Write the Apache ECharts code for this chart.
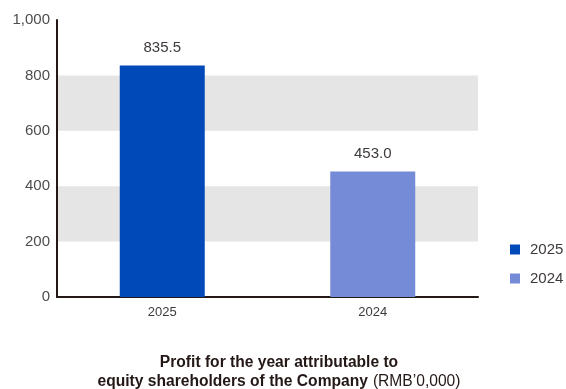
<!DOCTYPE html>
<html><head><meta charset="utf-8">
<script src="https://cdn.jsdelivr.net/npm/echarts@6/dist/echarts.min.js"></script>
<style>html,body{margin:0;padding:0;background:#fff}#c{width:566px;height:389px}</style>
</head><body><div id="c"></div>
<script>
const categories = ['2025', '2024'];
const values = [835.5, 453.0];
const seriesNames = ['2025', '2024'];
const colors = ['#0049b8', '#768bd7'];
const yTicks = [0, 200, 400, 600, 800, 1000];

const chart = echarts.init(document.getElementById('c'));
const font = 'Helvetica, Arial, "Liberation Sans", sans-serif';
chart.setOption({
  animation: false,
  textStyle: { fontFamily: font },
  grid: { left: 57, right: 88, top: 20, bottom: 92 },
  title: {
    text: '{b|Profit for the year attributable to}\n{b|equity shareholders of the Company} {n|(RMB\u20190,000)}',
    left: 274, top: 348, textAlign: 'center',
    textStyle: {
      rich: {
        b: { fontWeight: 'bold', fontSize: 15.6, color: '#231815', fontFamily: font, lineHeight: 19 },
        n: { fontWeight: 'normal', fontSize: 15.6, color: '#231815', fontFamily: font, lineHeight: 19 }
      }
    }
  },
  legend: {
    orient: 'vertical', left: 505, top: 237,
    itemWidth: 10, itemHeight: 10, itemGap: 14,
    icon: 'rect',
    textStyle: { fontSize: 15, color: '#3e3a39', fontFamily: font, padding: [0, 0, 0, 5] },
    data: seriesNames
  },
  xAxis: {
    type: 'category', data: categories,
    axisLine: { lineStyle: { color: '#231815', width: 2 } },
    axisTick: { show: false },
    axisLabel: { fontSize: 13, color: '#3e3a39', margin: 9 }
  },
  yAxis: {
    type: 'value', min: 0, max: 1000, interval: 200,
    axisLine: { show: true, lineStyle: { color: '#231815', width: 2 } },
    axisTick: { show: false },
    splitLine: { show: false },
    splitArea: { show: true, areaStyle: { color: ['rgba(255,255,255,0)', '#e5e5e5'] } },
    axisLabel: {
      fontSize: 15, color: '#4d4d4d', margin: 7,
      formatter: v => yTicks.includes(v) ? v.toLocaleString('en-US') : ''
    }
  },
  series: seriesNames.map((name, i) => ({
    name: name, type: 'bar', stack: 'all',
    barWidth: 85,
    itemStyle: { color: colors[i] },
    label: {
      show: true, position: 'top', distance: 10, fontSize: 15, color: '#3e3a39',
      formatter: p => p.value == null ? '' : Number(p.value).toFixed(1)
    },
    data: categories.map((c, j) => j === i ? values[j] : null)
  }))
});
</script></body></html>
